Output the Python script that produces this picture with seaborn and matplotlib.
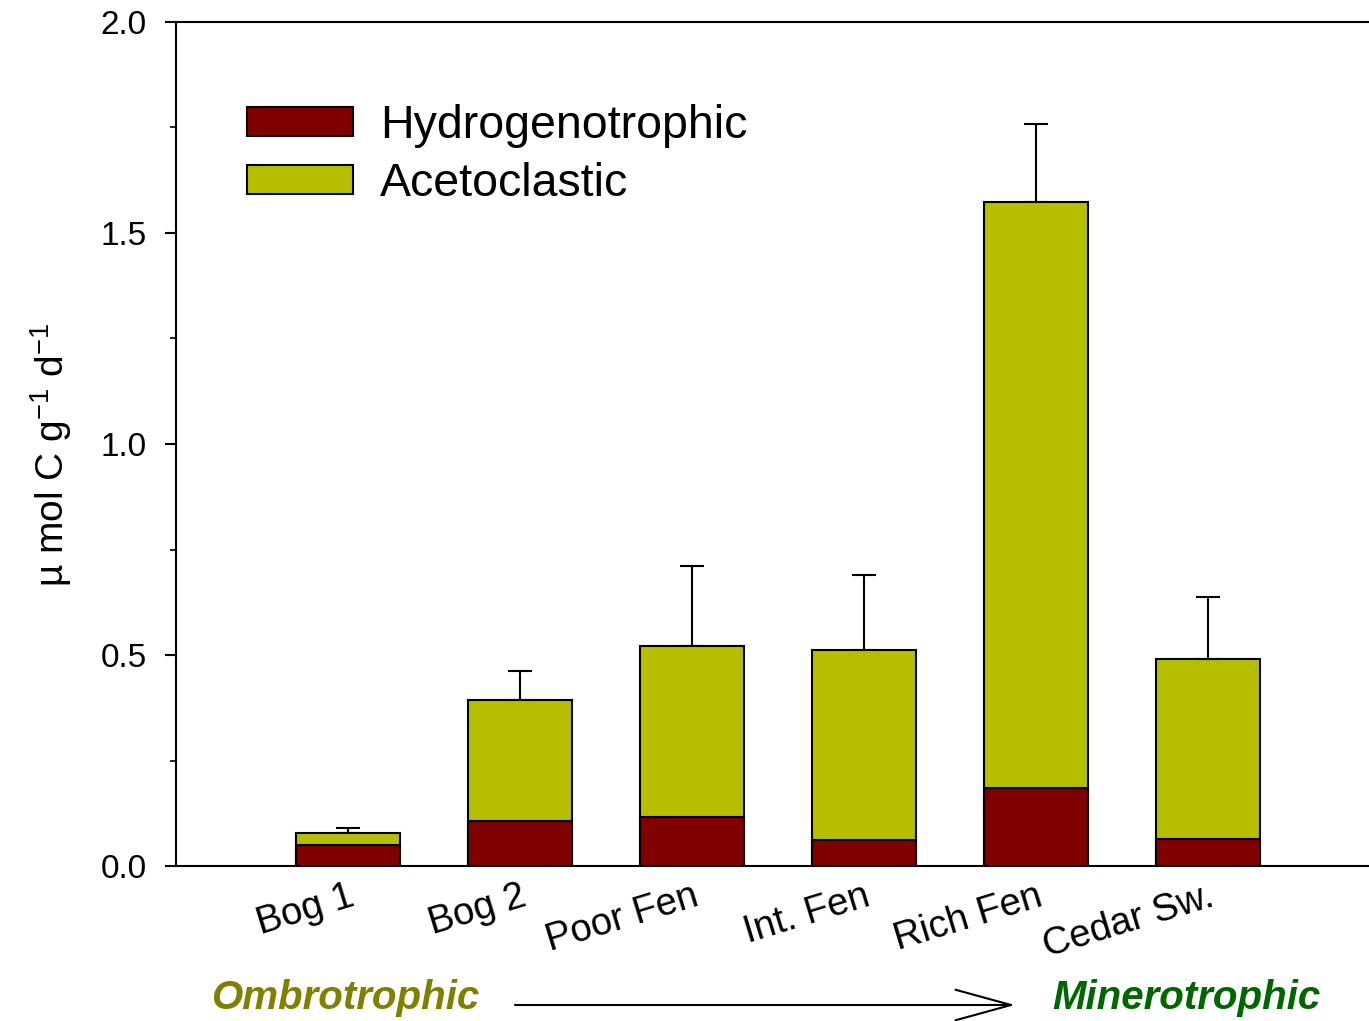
import matplotlib
matplotlib.use("Agg")
import matplotlib.pyplot as plt
import seaborn as sns
import pandas as pd
import numpy as np
from matplotlib.patches import Patch, FancyArrowPatch
from matplotlib.ticker import MultipleLocator

sites = ["Bog 1", "Bog 2", "Poor Fen", "Int. Fen", "Rich Fen", "Cedar Sw."]
hydrogenotrophic = [0.050, 0.107, 0.116, 0.062, 0.185, 0.064]
total = [0.078, 0.393, 0.521, 0.512, 1.573, 0.491]
error_up = [0.012, 0.069, 0.190, 0.178, 0.185, 0.146]
series_names = ["Hydrogenotrophic", "Acetoclastic"]
hydro_color = "#800000"
aceto_color = "#B5BF00"

sns.set_theme(style="ticks")
plt.rcParams["font.family"] = ["Liberation Sans", "DejaVu Sans"]
plt.rcParams["mathtext.fontset"] = "custom"
plt.rcParams["mathtext.rm"] = "Liberation Sans"
plt.rcParams["mathtext.it"] = "Liberation Sans:italic"
plt.rcParams["mathtext.bf"] = "Liberation Sans:bold"
for k in ["text.color", "axes.labelcolor", "xtick.color", "ytick.color", "axes.edgecolor"]:
    plt.rcParams[k] = "black"

df = pd.DataFrame({"site": sites, "hydro": hydrogenotrophic, "total": total})

fig = plt.figure(figsize=(13.69, 10.21), dpi=100)
ax = fig.add_axes([176/1369, 155/1021, 1204/1369, 844/1021])

sns.barplot(data=df, x="site", y="total", color=aceto_color, width=0.6,
            edgecolor="black", linewidth=1.5, saturation=1, ax=ax, zorder=3)
sns.barplot(data=df, x="site", y="hydro", color=hydro_color, width=0.6,
            edgecolor="black", linewidth=1.5, saturation=1, ax=ax, zorder=4)

xpos = np.arange(len(sites))
ax.errorbar(xpos, total, yerr=[np.zeros(len(sites)), error_up], fmt="none",
            ecolor="black", elinewidth=1.5, capsize=8.6, capthick=1.5, zorder=2)

ax.set_xlim(-1, 6.0)
ax.set_ylim(0, 2.0)
ax.yaxis.set_major_locator(MultipleLocator(0.5))
ax.yaxis.set_minor_locator(MultipleLocator(0.25))
ax.set_yticks([0, 0.5, 1.0, 1.5, 2.0])
ax.set_yticklabels(["0.0", "0.5", "1.0", "1.5", "2.0"])
ax.tick_params(axis="y", which="major", length=8, width=1.5, labelsize=24, pad=13)
ax.tick_params(axis="y", which="minor", length=4, width=1.2)
ax.tick_params(axis="x", length=0, pad=9)
ax.set_xticks(xpos)
ax.set_xticklabels(sites, rotation=17, ha="right", va="top", rotation_mode="anchor", fontsize=27.5)
ax.set_xlabel("")
ax.set_ylabel(r"µ mol C g$^{-1}$ d$^{-1}$", fontsize=28)
ax.yaxis.set_label_coords(-0.085, 0.487)

for s in ["top", "left", "bottom", "right"]:
    ax.spines[s].set_linewidth(1.5)

handles = [Patch(facecolor=hydro_color, edgecolor="black", linewidth=1.5),
           Patch(facecolor=aceto_color, edgecolor="black", linewidth=1.5)]
ax.legend(handles, series_names, loc="upper left", bbox_to_anchor=(0.059, 0.903),
          frameon=False, fontsize=33.5, handlelength=2.28, handleheight=0.56,
          handletextpad=0.58, labelspacing=0.3, borderpad=0, borderaxespad=0)

fig.text(345/1369, 1 - 998/1021, "Ombrotrophic", color="#808000", fontsize=29,
         fontweight="bold", fontstyle="italic", ha="center", va="center")
fig.text(1186/1369, 1 - 998/1021, "Minerotrophic", color="#006600", fontsize=29,
         fontweight="bold", fontstyle="italic", ha="center", va="center")
arrow = FancyArrowPatch((515/1369, 1 - 1005/1021), (1015/1369, 1 - 1005/1021),
                        transform=fig.transFigure, arrowstyle="->,head_length=40,head_width=11",
                        mutation_scale=1, linewidth=1.5, color="black", shrinkA=0, shrinkB=0)
fig.patches.append(arrow)

fig.savefig("out.png", dpi=100)
